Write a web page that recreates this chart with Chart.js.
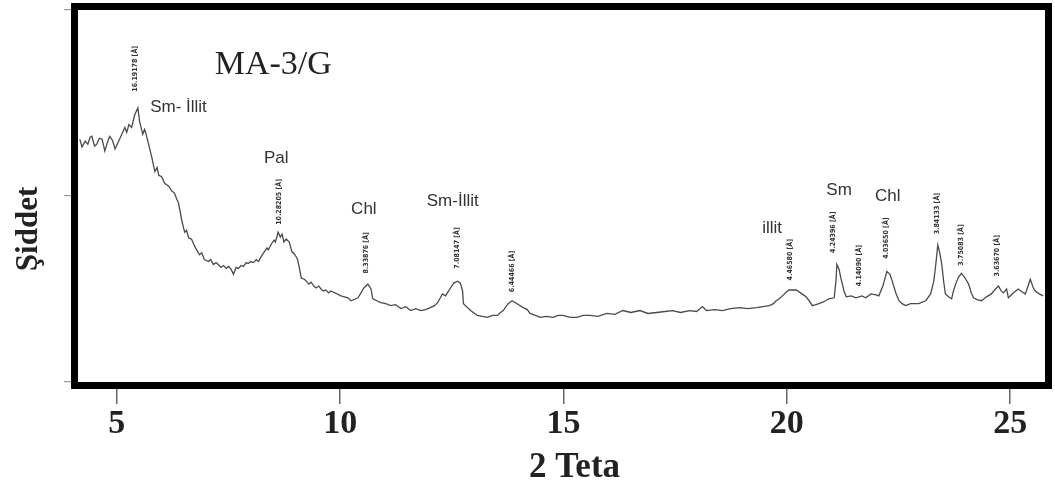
<!DOCTYPE html>
<html>
<head>
<meta charset="utf-8">
<script src="https://cdn.jsdelivr.net/npm/chart.js@4.4.1/dist/chart.umd.min.js"></script>
<style>
  html, body { margin: 0; padding: 0; background: #fff; }
  #wrap { width: 1055px; height: 486px; }
</style>
</head>
<body>
<div id="wrap"><canvas id="xrdChart"></canvas></div>
<script>
// MA-3/G diffractogram
const theta = [
    4.17, 4.22, 4.29, 4.35, 4.40, 4.44, 4.50, 4.55, 4.61, 4.67, 4.73, 4.79, 4.84, 4.90, 4.96,
    5.04, 5.11, 5.18, 5.22, 5.27, 5.33, 5.40, 5.47, 5.51, 5.58, 5.62, 5.65, 5.71, 5.78, 5.85,
    5.90, 5.94, 6.00, 6.07, 6.16, 6.23, 6.29, 6.34, 6.38, 6.45, 6.49, 6.52, 6.56, 6.61, 6.67,
    6.72, 6.76, 6.85, 6.90, 6.96, 7.05, 7.10, 7.16, 7.22, 7.27, 7.33, 7.39, 7.45, 7.50, 7.56,
    7.61, 7.67, 7.72, 7.78, 7.83, 7.90, 7.94, 8.00, 8.06, 8.12, 8.17, 8.23, 8.30, 8.36, 8.39,
    8.46, 8.52, 8.55, 8.61, 8.66, 8.70, 8.74, 8.79, 8.86, 8.92, 8.97, 9.04, 9.08, 9.13, 9.20,
    9.24, 9.30, 9.35, 9.41, 9.46, 9.52, 9.57, 9.63, 9.68, 9.74, 9.79,
    10.02, 10.17, 10.24, 10.40, 10.53, 10.62, 10.69, 10.73, 10.82, 10.91, 11.02, 11.13, 11.24,
    11.36, 11.47, 11.58, 11.69, 11.80, 11.91, 12.02, 12.11, 12.18, 12.29, 12.36, 12.40, 12.47,
    12.54, 12.63, 12.69, 12.74, 12.76, 12.85, 12.92, 13.01, 13.07, 13.18, 13.30, 13.41, 13.52,
    13.59, 13.65, 13.76, 13.85, 13.96, 14.10, 14.19, 14.25, 14.37, 14.48, 14.61, 14.77, 14.88,
    14.99, 15.15, 15.30, 15.44, 15.59, 15.77, 15.97, 16.15, 16.33, 16.51, 16.71, 16.89, 17.09,
    17.27, 17.44, 17.62, 17.82, 17.98, 18.11, 18.20, 18.38, 18.56, 18.74, 18.94, 19.12, 19.32,
    19.47, 19.61, 19.70, 19.76, 19.83, 19.90, 19.99, 20.05, 20.21, 20.34, 20.43, 20.50, 20.57,
    20.65, 20.72, 20.83, 20.94, 21.06, 21.10, 21.12, 21.17, 21.21, 21.28, 21.33, 21.44, 21.55,
    21.68, 21.77, 21.88, 22.00, 22.06, 22.15, 22.24, 22.31, 22.36, 22.44, 22.51, 22.58, 22.66,
    22.77, 22.95, 23.11, 23.22, 23.29, 23.33, 23.38, 23.42, 23.47, 23.51, 23.55, 23.62, 23.69,
    23.73, 23.78, 23.84, 23.91, 23.98, 24.07, 24.13, 24.18, 24.27, 24.36, 24.47, 24.58, 24.67,
    24.74, 24.80, 24.85, 24.92, 24.96, 25.07, 25.18, 25.27, 25.34, 25.40, 25.45, 25.52, 25.56,
    25.65, 25.74
];
const intensity = [
    248, 240, 246, 243, 250, 251, 241, 243, 249, 248, 236, 245, 251, 247, 238,
    246, 253, 260, 255, 263, 260, 273, 280, 266, 253, 258, 254, 243, 230, 215,
    219, 211, 210, 203, 200, 195, 193, 187, 183, 166, 158, 153, 155, 147, 146,
    141, 137, 130, 132, 125, 123, 125, 120, 122, 120, 117, 119, 116, 118, 115,
    110, 117, 116, 119, 118, 122, 121, 123, 122, 125, 123, 128, 133, 137, 135,
    141, 145, 143, 153, 148, 151, 143, 146, 143, 133, 131, 126, 118, 106, 105,
    103, 100, 102, 98, 96, 98, 95, 93, 94, 91, 93,
    88, 86, 83, 86, 96, 100, 95, 85, 83, 81, 80, 78, 79,
    75, 77, 73, 75, 73, 74, 76, 78, 81, 90, 88, 91, 96,
    101, 103, 101, 93, 80, 76, 73, 70, 68, 67, 66, 68, 68,
    71, 73, 80, 83, 80, 76, 74, 70, 68, 66, 67, 66, 68,
    68, 66, 66, 68, 68, 67, 70, 69, 73, 71, 73, 70, 71,
    72, 73, 71, 73, 72, 77, 73, 74, 73, 75, 76, 75, 76,
    77, 78, 80, 83, 85, 88, 92, 94, 94, 90, 87, 83, 78,
    79, 80, 82, 85, 86, 103, 120, 115, 106, 93, 87, 88, 86,
    88, 86, 90, 89, 88, 98, 113, 110, 103, 91, 83, 80, 78,
    80, 80, 83, 90, 103, 118, 140, 133, 120, 103, 90, 87, 85,
    93, 100, 107, 111, 107, 100, 91, 86, 84, 83, 87, 90, 95,
    98, 93, 91, 95, 86, 91, 95, 92, 90, 98, 105, 96, 93,
    90, 88
];
const xTicks = [5, 10, 15, 20, 25];
const yTicks = [0, 190, 380];

const mineralNames = ['Sm- İllit', 'Pal', 'Chl', 'Sm-İllit', 'illit', 'Sm', 'Chl'];
const mineralTheta = [6.38, 8.57, 10.53, 12.52, 19.67, 21.17, 22.26];
const mineralLevel = [281, 228, 176, 185, 157, 196, 190];

const dLabels = ['16.19178 [Å]', '10.28205 [Å]', '8.33876 [Å]', '7.08147 [Å]', '6.44466 [Å]', '4.46580 [Å]',
                 '4.24396 [Å]', '4.14090 [Å]', '4.03650 [Å]', '3.84133 [Å]', '3.75083 [Å]', '3.63670 [Å]'];
const dTheta = [5.42, 8.64, 10.58, 12.61, 13.85, 20.08, 21.03, 21.62, 22.22, 23.37, 23.91, 24.71];
const dLevel = [320, 184, 132, 137, 113, 125, 153, 119, 147, 172, 140, 129];

const sampleName = 'MA-3/G';

// frame, titles and peak annotations
const decorPlugin = {
    id: 'decor',
    afterDatasetsDraw(chart) {
        const ctx = chart.ctx;
        const area = chart.chartArea;
        const xs = chart.scales.x;
        const ys = chart.scales.y;
        ctx.save();

        // thick frame
        ctx.strokeStyle = '#000';
        ctx.lineWidth = 7;
        ctx.strokeRect(area.left - 3.5, area.top - 3.5, area.right - area.left + 7, area.bottom - area.top + 7);

        // sample name
        ctx.fillStyle = '#222';
        ctx.font = '34px "Liberation Serif", "Times New Roman", serif';
        ctx.textAlign = 'left';
        ctx.textBaseline = 'alphabetic';
        ctx.fillText(sampleName, xs.getPixelForValue(7.19), ys.getPixelForValue(315));

        // mineral names
        ctx.fillStyle = '#333';
        ctx.font = '17px "Liberation Sans", Arial, sans-serif';
        ctx.textAlign = 'center';
        ctx.textBaseline = 'middle';
        mineralNames.forEach((name, i) => {
            ctx.fillText(name, xs.getPixelForValue(mineralTheta[i]), ys.getPixelForValue(mineralLevel[i]));
        });

        // d-spacing labels, vertical (reading upwards)
        ctx.fillStyle = '#333';
        ctx.font = 'bold 7px "DejaVu Sans Condensed", "DejaVu Sans", sans-serif';
        dLabels.forEach((txt, i) => {
            ctx.save();
            ctx.translate(xs.getPixelForValue(dTheta[i]), ys.getPixelForValue(dLevel[i]));
            ctx.rotate(-Math.PI / 2);
            ctx.fillText(txt, 0, 0);
            ctx.restore();
        });

        // axis titles
        ctx.fillStyle = '#222';
        ctx.font = 'bold 35px "Liberation Serif", "Times New Roman", serif';
        ctx.textAlign = 'center';
        ctx.textBaseline = 'alphabetic';
        ctx.fillText('2 Teta', (area.left + area.right) / 2 + 13, 477);

        ctx.font = 'bold 31px "Liberation Serif", "Times New Roman", serif';
        ctx.textBaseline = 'middle';
        ctx.translate(area.left - 49, area.top + 219);
        ctx.rotate(-Math.PI / 2);
        ctx.fillText('Şiddet', 0, 0);
        ctx.restore();
    }
};

const ctx = document.getElementById('xrdChart').getContext('2d');
const xrdChart = new Chart(ctx, {
    type: 'line',
    data: {
        datasets: [{
            data: theta.map((t, i) => ({ x: t, y: intensity[i] })),
            borderColor: '#4a4a4a',
            borderWidth: 1.3,
            pointRadius: 0,
            tension: 0,
            fill: false,
        }],
    },
    options: {
        responsive: true,
        maintainAspectRatio: false,
        animation: false,
        layout: { padding: { top: 10, right: 10, left: 0, bottom: 0 } },
        plugins: {
            legend: { display: false },
            tooltip: { enabled: false },
        },
        scales: {
            x: {
                type: 'linear',
                min: 4.13,
                max: 25.78,
                afterBuildTicks: (scale) => { scale.ticks = xTicks.map(v => ({ value: v })); },
                afterFit: (scale) => { scale.height = 104; },
                border: { display: false },
                grid: {
                    drawOnChartArea: false,
                    drawTicks: true,
                    tickLength: 22,
                    color: '#666',
                    lineWidth: 1.5,
                },
                ticks: {
                    padding: 0,
                    color: '#222',
                    font: { family: '"Liberation Serif", "Times New Roman", serif', size: 34, weight: 'bold' },
                },
            },
            y: {
                type: 'linear',
                min: 0,
                max: 380,
                afterBuildTicks: (scale) => { scale.ticks = yTicks.map(v => ({ value: v })); },
                afterFit: (scale) => { scale.width = 78; },
                border: { display: false },
                grid: {
                    drawOnChartArea: false,
                    drawTicks: true,
                    tickLength: 14,
                    color: '#999',
                    lineWidth: 1.2,
                },
                ticks: { display: false },
            },
        },
    },
    plugins: [decorPlugin],
});
</script>
</body>
</html>
